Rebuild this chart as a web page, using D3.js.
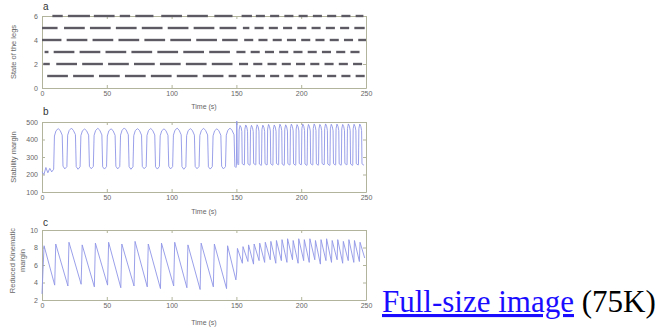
<!DOCTYPE html>
<html><head><meta charset="utf-8">
<script src="https://cdn.jsdelivr.net/npm/d3@7"></script>
<style>body{margin:0;background:#fff;} svg{display:block;}</style>
</head><body>
<svg id="chart" width="663" height="328"></svg>
<script>
// ---------- DATA ----------
const timeTicks = [0, 50, 100, 150, 200, 250];
const legTicks = [0, 2, 4, 6];
const stabilityTicks = [100, 200, 300, 400, 500];
const kinematicTicks = [2, 4, 6, 8, 10];

// Leg state intervals [start s, end s] drawn on levels 1..6
const leg1 = [[4,20],[24,40],[44,60],[64,80],[84,100],[104,120],[124,140],[144,150],[154,161],[165,172],[176,183],[187,194],[198,205],[209,216],[220,227],[231,238],[242,249]];
const leg2 = [[1,6],[11,27],[31,47],[51,67],[71,87],[91,107],[111,127],[131,147],[152,159],[163,170],[174,181],[185,192],[196,203],[207,214],[218,225],[229,236],[240,247]];
const leg3 = [[2,5],[9,25],[29,45],[49,65],[69,85],[89,105],[109,125],[129,145],[150,157],[161,168],[172,179],[183,190],[194,201],[205,212],[216,223],[227,234],[238,245]];
const leg4 = [[0,15],[19,35],[39,55],[59,75],[79,95],[99,115],[119,135],[139,151],[156,163],[167,174],[178,185],[189,196],[200,207],[211,218],[222,229],[233,240],[244,250]];
const leg5 = [[0,12],[17,33],[37,53],[57,73],[77,93],[97,113],[117,133],[137,150],[155,160],[164,171],[175,182],[186,193],[197,204],[208,215],[219,226],[230,237],[241,249]];
const leg6 = [[8,16],[20,37],[40,56],[60,68],[72,86],[92,108],[112,128],[133,147],[154,162],[165,172],[176,183],[187,194],[198,205],[209,216],[220,227],[231,238],[242,248]];

// Stability margin [time s, value]
const stabilityMargin = [
 [0,215],[1.5,200],[3,240],[4.5,210],[6,235],[7.5,215],[9,230],
 [9.6,420],[10.8,450],[12.5,462],[14,452],[15.6,425],[16.2,248],[17.6,232],[19.2,245],
 [19.8,425],[21,452],[22.7,465],[24.2,452],[25.8,428],[26.4,245],[27.8,230],[29.4,244],
 [30,422],[31.2,450],[32.9,460],[34.4,450],[36,425],[36.6,246],[38,233],[39.6,246],
 [40.2,424],[41.4,452],[43.1,464],[44.6,453],[46.2,426],[46.8,244],[48.2,231],[49.8,245],
 [50.4,420],[51.6,450],[53.3,461],[54.8,451],[56.4,424],[57,247],[58.4,232],[60,246],
 [60.6,425],[61.8,453],[63.5,466],[65,454],[66.6,427],[67.2,245],[68.6,230],[70.2,244],
 [70.8,422],[72,451],[73.7,462],[75.2,452],[76.8,425],[77.4,246],[78.8,233],[80.4,245],
 [81,423],[82.2,452],[83.9,463],[85.4,452],[87,426],[87.6,244],[89,231],[90.6,246],
 [91.2,421],[92.4,450],[94.1,461],[95.6,451],[97.2,424],[97.8,247],[99.2,232],[100.8,245],
 [101.4,425],[102.6,453],[104.3,465],[105.8,453],[107.4,427],[108,245],[109.4,230],[111,244],
 [111.6,422],[112.8,451],[114.5,462],[116,452],[117.6,425],[118.2,246],[119.6,233],[121.2,246],
 [121.8,424],[123,452],[124.7,464],[126.2,452],[127.8,426],[128.4,244],[129.8,231],[131.4,245],
 [132,421],[133.2,450],[134.9,461],[136.4,451],[138,424],[138.6,247],[140,232],[141.6,245],
 [142.2,425],[143.4,453],[145.1,465],[146.6,453],[148.2,427],[148.8,246],[149.6,240],
 [150,250],[150.3,505],[150.7,262],[151.5,255],
 [151.8,258],[152.1,455],[152.8,480],[153.6,470],[154.2,446],[154.5,262],[156,254],
 [156.2,258],[156.5,458],[157.2,483],[158,471],[158.6,447],[158.9,261],[160.4,253],
 [160.6,257],[160.9,456],[161.6,481],[162.4,469],[163,445],[163.3,263],[164.8,255],
 [165,258],[165.3,459],[166,484],[166.8,472],[167.4,448],[167.7,260],[169.2,252],
 [169.4,256],[169.7,457],[170.4,482],[171.2,470],[171.8,446],[172.1,262],[173.6,254],
 [173.8,258],[174.1,460],[174.8,486],[175.6,473],[176.2,449],[176.5,261],[178,253],
 [178.2,257],[178.5,458],[179.2,483],[180,471],[180.6,447],[180.9,263],[182.4,255],
 [182.6,258],[182.9,461],[183.6,487],[184.4,474],[185,450],[185.3,260],[186.8,252],
 [187,256],[187.3,459],[188,484],[188.8,472],[189.4,448],[189.7,262],[191.2,254],
 [191.4,258],[191.7,462],[192.4,488],[193.2,475],[193.8,450],[194.1,261],[195.6,253],
 [195.8,257],[196.1,460],[196.8,485],[197.6,473],[198.2,449],[198.5,263],[200,255],
 [200.2,258],[200.5,462],[201.2,488],[202,475],[202.6,451],[202.9,260],[204.4,252],
 [204.6,256],[204.9,460],[205.6,486],[206.4,473],[207,449],[207.3,262],[208.8,254],
 [209,258],[209.3,463],[210,489],[210.8,476],[211.4,451],[211.7,261],[213.2,253],
 [213.4,257],[213.7,461],[214.4,486],[215.2,474],[215.8,450],[216.1,263],[217.6,255],
 [217.8,258],[218.1,463],[218.8,489],[219.6,476],[220.2,452],[220.5,260],[222,252],
 [222.2,256],[222.5,461],[223.2,487],[224,474],[224.6,450],[224.9,262],[226.4,254],
 [226.6,258],[226.9,462],[227.6,488],[228.4,475],[229,451],[229.3,261],[230.8,253],
 [231,257],[231.3,461],[232,486],[232.8,474],[233.4,450],[233.7,263],[235.2,255],
 [235.4,258],[235.7,463],[236.4,489],[237.2,476],[237.8,451],[238.1,260],[239.6,252],
 [239.8,256],[240.1,461],[240.8,487],[241.6,474],[242.2,450],[242.5,262],[244,254],
 [244.2,258],[244.5,462],[245.2,488],[246,475],[246.6,451],[246.9,261],[248.4,253]
];

// Reduced kinematic margin [time s, value]
const kinematicMargin = [
 [0,2.7],[0.8,5.5],[1.6,8.2],[9.8,3.7],[10.6,8.4],[20,3.6],[20.8,8.6],[30.2,3.8],[31,8.3],
 [40.4,3.5],[41.2,8.5],[50.6,3.7],[51.4,8.6],[60.8,3.4],[61.6,8.4],[71,3.6],[71.8,8.7],
 [81.2,3.5],[82,8.4],[91.4,3.3],[92.2,8.5],[101.6,3.6],[102.4,8.6],[111.8,3.4],[112.6,8.3],
 [122,3.2],[122.8,8.5],[132.2,3.5],[133,8.4],[142.4,3.3],[143.2,8.2],[149.6,4.3],
 [150.2,5.2],[150.8,7.9],[154.6,6.2],[155.1,8.1],[158.9,6.4],[159.4,8.3],[163.2,6.1],[163.7,8.4],
 [167.5,6.5],[168,8.5],[171.8,6.3],[172.3,8.6],[176.1,6.6],[176.6,8.7],[180.4,6.2],[180.9,8.8],
 [184.7,6.5],[185.2,8.9],[189,6.3],[189.5,9.0],[193.3,6.6],[193.8,8.8],[197.6,6.2],[198.1,9.0],
 [201.9,6.5],[202.4,8.9],[206.2,6.3],[206.7,9.0],[210.5,6.6],[211,8.8],[214.8,6.1],[215.3,8.9],
 [219.1,6.5],[219.6,9.0],[223.4,6.3],[223.9,8.8],[227.7,6.6],[228.2,8.9],[232,6.2],[232.5,8.7],
 [236.3,6.5],[236.8,8.9],[240.6,6.3],[241.1,8.8],[244.9,6.4],[245.4,8.6],[249,6.8]
];

// ---------- DRAWING ----------
const svg = d3.select("#chart");
const axisColor = "#b3b49c";
const textColor = "#666";
const lineColor = "#8f95e6";
const font = "Liberation Sans, Arial, sans-serif";
const intFmt = d3.format("d");

const x = d3.scaleLinear().domain([0, 250]).range([42, 366]);

function frame(y, yTicks, letter, letterY, timeY) {
  const g = svg.append("g");
  const [yb, yt] = y.range();
  g.append("g").attr("transform", `translate(0,${yb})`)
    .call(d3.axisBottom(x).tickValues(timeTicks).tickFormat(intFmt).tickSize(-3).tickSizeOuter(0).tickPadding(3));
  g.append("g").attr("transform", `translate(0,${yt})`)
    .call(d3.axisTop(x).tickValues(timeTicks).tickSize(-3).tickSizeOuter(0).tickFormat(""));
  g.append("g").attr("transform", `translate(42,0)`)
    .call(d3.axisLeft(y).tickValues(yTicks).tickFormat(intFmt).tickSize(-3).tickSizeOuter(0).tickPadding(4));
  g.append("g").attr("transform", `translate(366,0)`)
    .call(d3.axisRight(y).tickValues(yTicks).tickSize(-3).tickSizeOuter(0).tickFormat(""));
  g.selectAll(".domain, .tick line").attr("stroke", axisColor).attr("stroke-width", 1);
  g.selectAll(".tick text").attr("fill", textColor).style("font-size", "7px").style("font-family", font);
  g.append("text").attr("x", 43).attr("y", letterY).text(letter)
    .attr("fill", "#333").style("font-size", "10px").style("font-family", font);
  g.append("text").attr("x", 204).attr("y", timeY).attr("text-anchor", "middle").text("Time (s)")
    .attr("fill", textColor).style("font-size", "7px").style("font-family", font);
  return g;
}

// Panel a
const ya = d3.scaleLinear().domain([0, 6]).range([88, 16]);
frame(ya, legTicks, "a", 10, 109);
const legs = [leg1, leg2, leg3, leg4, leg5, leg6];
const segs = [];
legs.forEach((iv, i) => iv.forEach(([s, e]) => segs.push({level: i + 1, s, e})));
svg.append("g").selectAll("line").data(segs).join("line")
  .attr("x1", d => x(d.s)).attr("x2", d => x(d.e))
  .attr("y1", d => ya(d.level)).attr("y2", d => ya(d.level))
  .attr("stroke", "#5e5a64").attr("stroke-width", 2.4);
svg.append("text").attr("transform", `translate(16,${ya(3)}) rotate(-90)`).attr("text-anchor", "middle")
  .text("State of the legs").attr("fill", textColor).style("font-size", "7.5px").style("font-family", font);

// Panel b
const yb = d3.scaleLinear().domain([100, 500]).range([192, 122]);
frame(yb, stabilityTicks, "b", 115, 214);
svg.append("path").datum(stabilityMargin)
  .attr("d", d3.line().x(d => x(d[0])).y(d => yb(d[1])))
  .attr("fill", "none").attr("stroke", lineColor).attr("stroke-width", 0.9);
svg.append("text").attr("transform", `translate(16,${yb(300)}) rotate(-90)`).attr("text-anchor", "middle")
  .text("Stability margin").attr("fill", textColor).style("font-size", "7.5px").style("font-family", font);

// Panel c
const yc = d3.scaleLinear().domain([2, 10]).range([300, 230]);
frame(yc, kinematicTicks, "c", 226, 325);
svg.append("path").datum(kinematicMargin)
  .attr("d", d3.line().x(d => x(d[0])).y(d => yc(d[1])))
  .attr("fill", "none").attr("stroke", lineColor).attr("stroke-width", 0.9);
const kl = svg.append("text").attr("transform", `translate(15,${yc(6.5)}) rotate(-90)`).attr("text-anchor", "middle")
  .attr("fill", textColor).style("font-size", "7.5px").style("font-family", font);
kl.append("tspan").attr("x", 0).attr("dy", 0).text("Reduced Kinematic");
kl.append("tspan").attr("x", 0).attr("dy", 10).text("margin");

// Link text
const link = svg.append("text").attr("x", 382).attr("y", 312)
  .style("font-family", "Liberation Serif, Times New Roman, serif").style("font-size", "31px");
link.append("tspan").text("Full-size image").attr("fill", "#1a0dff").attr("text-decoration", "underline");
link.append("tspan").text(" (75K)").attr("fill", "#000");
</script></body></html>
